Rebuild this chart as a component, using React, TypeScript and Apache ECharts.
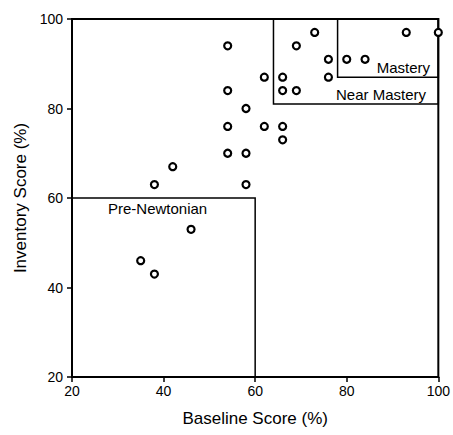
import React, { useEffect, useRef } from "react";
import * as echarts from "echarts";

const baselineScores = [54, 54, 58, 54, 54, 58, 42, 38, 58, 46, 35, 38, 73, 69, 93, 100, 76, 80, 84, 62, 66, 76, 66, 69, 62, 66, 66];
const inventoryScores = [94, 84, 80, 76, 70, 70, 67, 63, 63, 53, 46, 43, 97, 94, 97, 97, 91, 91, 91, 87, 87, 87, 84, 84, 76, 76, 73];
const axisTicks = [20, 40, 60, 80, 100];
const zoneNames = ["Pre-Newtonian", "Near Mastery", "Mastery"];
const zoneX = [[20, 60], [64, 100], [78, 100]];
const zoneY = [[20, 60], [81, 100], [87, 100]];

const FONT = "'Liberation Sans', Arial, Helvetica, sans-serif";

export default function App() {
  const ref = useRef<HTMLDivElement>(null);
  useEffect(() => {
    if (!ref.current) return;
    const chart = echarts.init(ref.current, undefined, { renderer: "svg" });
    const points = baselineScores.map((x, i) => [x, inventoryScores[i]]);
    const labelCfg = [
      { position: "insideTop", distance: 4, offset: [-6, 0] },
      { position: "insideBottomRight", distance: 3, offset: [-10, 0] },
      { position: "insideBottomRight", distance: 3, offset: [-6, 0] },
    ];
    const areas = zoneNames.map((name, i) => [
      {
        name,
        coord: [zoneX[i][0], zoneY[i][1]],
        label: {
          show: true,
          color: "#000",
          fontSize: 15,
          fontFamily: FONT,
          position: labelCfg[i].position,
          distance: labelCfg[i].distance,
          offset: labelCfg[i].offset,
        },
      },
      { coord: [zoneX[i][1], zoneY[i][0]] },
    ]);
    const axisCommon = {
      min: axisTicks[0],
      max: axisTicks[axisTicks.length - 1],
      interval: axisTicks[1] - axisTicks[0],
      nameLocation: "middle" as const,
      nameTextStyle: { color: "#000", fontSize: 17, fontFamily: FONT },
      axisLine: { show: true, lineStyle: { color: "#000", width: 2 } },
      axisTick: { show: true, inside: false, length: 5, lineStyle: { color: "#000", width: 1.5 } },
      splitLine: { show: false },
    };
    chart.setOption({
      animation: false,
      backgroundColor: "#fff",
      grid: {
        left: 72,
        right: 14,
        top: 19,
        bottom: 58,
        show: true,
        borderColor: "#000",
        borderWidth: 2,
        backgroundColor: "transparent",
      },
      xAxis: {
        ...axisCommon,
        type: "value",
        name: "Baseline Score (%)",
        nameGap: 33,
        axisLabel: { color: "#000", fontSize: 14, fontFamily: FONT, margin: 7 },
      },
      yAxis: {
        ...axisCommon,
        type: "value",
        name: "Inventory Score (%)",
        nameGap: 42,
        axisLabel: { color: "#000", fontSize: 14, fontFamily: FONT, margin: 9 },
      },
      series: [
        {
          type: "scatter",
          data: points,
          clip: false,
          symbol: "circle",
          symbolSize: 7,
          itemStyle: { color: "#fff", borderColor: "#000", borderWidth: 2.2, opacity: 1 },
          z: 5,
          markArea: {
            silent: true,
            itemStyle: { color: "rgba(0,0,0,0)", borderColor: "#000", borderWidth: 1.5 },
            data: areas,
          },
        },
      ],
    });
    return () => chart.dispose();
  }, []);
  return (
    <div
      ref={ref}
      style={{ position: "fixed", left: 0, top: 0, width: 453, height: 435, background: "#fff" }}
    />
  );
}
